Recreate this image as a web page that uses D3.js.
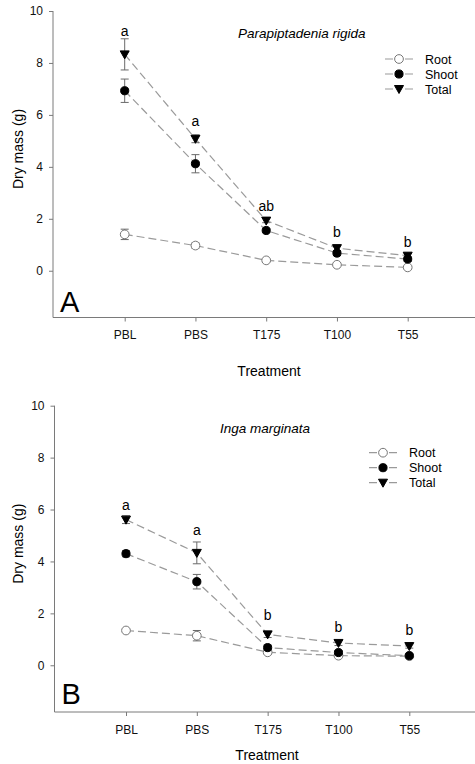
<!DOCTYPE html>
<html>
<head>
<meta charset="utf-8">
<script src="https://cdn.jsdelivr.net/npm/d3@7"></script>
<style>
  body { margin: 0; background: #fff; }
  svg { font-family: 'Liberation Sans', Arial, sans-serif; }
</style>
</head>
<body>
<div id="chart"></div>
<script>
const treatments = ['PBL', 'PBS', 'T175', 'T100', 'T55']
const yTicks = [0, 2, 4, 6, 8, 10]
const seriesNames = ['Root', 'Shoot', 'Total']

// panel A - Parapiptadenia rigida
const rootA = [1.40, 0.97, 0.40, 0.23, 0.13]
const rootErrA = [0.20, 0.10, 0.05, 0.05, 0.05]
const shootA = [6.93, 4.12, 1.55, 0.68, 0.45]
const shootErrA = [0.45, 0.35, 0.08, 0.10, 0.08]
const totalA = [8.33, 5.08, 1.93, 0.87, 0.58]
const totalErrA = [0.60, 0.15, 0.08, 0.12, 0.10]
const lettersA = ['a', 'a', 'ab', 'b', 'b']
const letterPosA = [9.04, 5.57, 2.30, 1.30, 0.91]

// panel B - Inga marginata
const rootB = [1.34, 1.14, 0.50, 0.37, 0.35]
const rootErrB = [0.06, 0.20, 0.05, 0.05, 0.05]
const shootB = [4.30, 3.22, 0.68, 0.49, 0.37]
const shootErrB = [0.12, 0.28, 0.10, 0.08, 0.06]
const totalB = [5.61, 4.33, 1.19, 0.86, 0.74]
const totalErrB = [0.15, 0.42, 0.12, 0.10, 0.08]
const lettersB = ['a', 'a', 'b', 'b', 'b']
const letterPosB = [6.00, 5.03, 1.76, 1.30, 1.18]

const w = 475, h = 764

const svg = d3.select('#chart')
              .append('svg')
              .attr('width', w)
              .attr('height', h)

const axisColor = '#7a7a7a',
      lineColor = '#9a9a9a'

function drawPanel(p) {
  const g = svg.append('g')

  const yScale = d3.scaleLinear()
                   .domain([-1.8, 10])
                   .range([p.bottom, p.top])

  const xScale = d3.scalePoint()
                   .domain(treatments)
                   .range([p.x0, p.x1])

  // axes
  const yAxis = g.append('g')
                 .attr('transform', 'translate(' + p.left + ',0)')
                 .call(d3.axisLeft(yScale).tickValues(yTicks).tickSize(4).tickPadding(6))
  yAxis.select('.domain').attr('d', 'M0,' + p.top + 'V' + p.bottom)

  const xAxis = g.append('g')
                 .attr('transform', 'translate(0,' + p.bottom + ')')
                 .call(d3.axisBottom(xScale).tickSize(4).tickPadding(p.xPad))
  xAxis.select('.domain').attr('d', 'M' + p.left + ',0H' + w)

  g.selectAll('.domain, .tick line').attr('stroke', axisColor)
  g.selectAll('.tick text').attr('fill', '#111').style('font-size', '12px')
   .style('font-family', "'Liberation Sans', Arial, sans-serif")

  g.append('text')
   .attr('transform', 'rotate(-90)')
   .attr('x', -p.yLabelY)
   .attr('y', 23)
   .attr('text-anchor', 'middle')
   .style('font-size', '14px')
   .text('Dry mass (g)')

  g.append('text')
   .attr('x', p.xLabelX)
   .attr('y', p.xLabelY)
   .attr('text-anchor', 'middle')
   .style('font-size', '14px')
   .text('Treatment')

  g.append('text')
   .attr('x', p.titleX)
   .attr('y', p.titleY)
   .style('font-size', '13.5px')
   .style('font-style', 'italic')
   .text(p.title)

  g.append('text')
   .attr('x', p.left + 7)
   .attr('y', p.letterY)
   .style('font-size', '29px')
   .text(p.letter)

  const series = [
    {name: 'Root', vals: p.root, err: p.rootErr},
    {name: 'Shoot', vals: p.shoot, err: p.shootErr},
    {name: 'Total', vals: p.total, err: p.totalErr}
  ]

  const line = d3.line()
                 .x((d, i) => xScale(treatments[i]))
                 .y((d) => yScale(d))

  g.selectAll('.series')
   .data(series)
   .enter()
   .append('path')
   .attr('d', (s) => line(s.vals))
   .attr('fill', 'none')
   .attr('stroke', lineColor)
   .attr('stroke-width', 1.2)
   .attr('stroke-dasharray', '8,4')

  // error bars
  series.forEach((s) => {
    s.vals.forEach((v, i) => {
      const x = xScale(treatments[i])
      const y1 = yScale(v + s.err[i]), y2 = yScale(v - s.err[i])
      g.append('path')
       .attr('d', 'M' + x + ',' + y1 + 'V' + y2 +
                  'M' + (x - 4) + ',' + y1 + 'H' + (x + 4) +
                  'M' + (x - 4) + ',' + y2 + 'H' + (x + 4))
       .attr('stroke', '#6a6a6a')
       .attr('fill', 'none')
    })
  })

  series.forEach((s) => {
    g.selectAll(null)
     .data(s.vals)
     .enter()
     .append('path')
     .attr('transform', (d, i) => 'translate(' + xScale(treatments[i]) + ',' + yScale(d) + ')')
     .call(marker, s.name)
  })

  g.selectAll('.sig')
   .data(p.letters)
   .enter()
   .append('text')
   .attr('x', (d, i) => xScale(treatments[i]))
   .attr('y', (d, i) => yScale(p.letterPos[i]))
   .attr('text-anchor', 'middle')
   .style('font-size', '14px')
   .text((d) => d)

  // legend
  seriesNames.forEach((name, i) => {
    const ly = p.legY + i * 15
    g.append('path')
     .attr('d', 'M' + (p.legX - 14) + ',' + ly + 'h8M' + (p.legX + 6) + ',' + ly + 'h8')
     .attr('stroke', lineColor)
     .attr('stroke-width', 1.2)
    g.append('path')
     .attr('transform', 'translate(' + p.legX + ',' + ly + ')')
     .call(marker, name)
    g.append('text')
     .attr('x', p.legX + 26)
     .attr('y', ly + 4.5)
     .style('font-size', '12.5px')
     .text(name)
  })
}

function marker(sel, name) {
  if (name === 'Root') {
    sel.attr('d', d3.symbol(d3.symbolCircle, 60)())
       .attr('fill', '#fff')
       .attr('stroke', '#777')
  } else if (name === 'Shoot') {
    sel.attr('d', d3.symbol(d3.symbolCircle, 52)())
       .attr('fill', '#000')
       .attr('stroke', '#000')
  } else {
    sel.attr('d', 'M-4.5,-3.5L4.5,-3.5L0,4.5Z')
       .attr('fill', '#000')
       .attr('stroke', '#000')
  }
}

drawPanel({
  top: 11, bottom: 317.5, left: 53, x0: 124.7, x1: 407.7, xPad: 9,
  root: rootA, rootErr: rootErrA, shoot: shootA, shootErr: shootErrA,
  total: totalA, totalErr: totalErrA, letters: lettersA, letterPos: letterPosA,
  title: 'Parapiptadenia rigida', titleX: 238, titleY: 38,
  letter: 'A', letterY: 311.5,
  yLabelY: 149, xLabelX: 269, xLabelY: 375.5,
  legX: 399, legY: 59
})

drawPanel({
  top: 405.7, bottom: 712, left: 54.5, x0: 126, x1: 409.3, xPad: 9,
  root: rootB, rootErr: rootErrB, shoot: shootB, shootErr: shootErrB,
  total: totalB, totalErr: totalErrB, letters: lettersB, letterPos: letterPosB,
  title: 'Inga marginata', titleX: 220, titleY: 433,
  letter: 'B', letterY: 704,
  yLabelY: 543.7, xLabelX: 267, xLabelY: 760,
  legX: 383, legY: 452.7
})
</script>
</body>
</html>
